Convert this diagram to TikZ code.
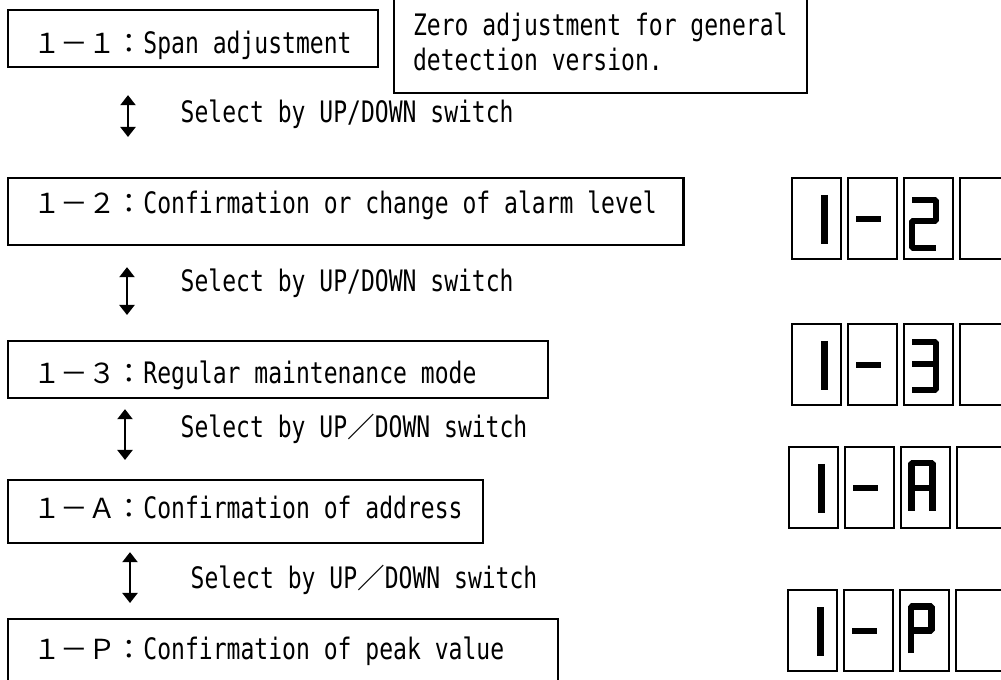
\documentclass[tikz,border=0pt]{standalone}
\usepackage{fontspec}
\usepackage{tikz}
\usetikzlibrary{calc}
\usetikzlibrary{arrows.meta,positioning}
\newfontfamily\gothic[FakeStretch=0.78]{DejaVu Sans Mono}
\newfontfamily\cjk{Noto Sans CJK JP}
\newcommand\zen[1]{{\cjk\fontsize{7.85}{10}\selectfont #1}}
\newcommand\entry[2]{\makebox[#1][l]{#2}}
\def\lcdrow(#1,#2)#3{% Syntax: (top left corner of first cell) {third character}
    \begin{scope}[shift={(#1,#2)}]
    \foreach \i in {0,...,3}
        \draw[cell] (56*\i,0) rectangle +(49,81);
    \draw[seg] (32.5,17) -- (32.5,66); % 1
    \draw[seg] (64,41) -- (89,41);     % -
    \begin{scope}[shift={(112,0)}] #3 \end{scope}
    \end{scope}}
\def\digittwo{\draw[seg] (8,22) -- (32,22) -- (32,43) -- (8,43) -- (8,70) -- (32,70);}
\def\digitthree{\draw[seg] (8,18) -- (32,18) -- (32,66) -- (8,66); \draw[seg] (8,40) -- (32,40);}
\def\letterA{\draw[seg] (10.5,64) -- (10.5,16) -- (31.5,16) -- (31.5,64); \draw[seg] (10.5,41) -- (31.5,41);}
\def\letterP{\draw[seg] (11,63) -- (11,16.5) -- (31.5,16.5) -- (31.5,40.5) -- (11,40.5);}

\begin{document}
\begin{tikzpicture}
    [x=0.01cm,y=-0.01cm,
     menu/.style={draw,line width=0.6pt,anchor=north west,inner xsep=0.25cm,inner ysep=0pt,
        font=\gothic\fontsize{8.4}{10}\selectfont},
     hint/.style={anchor=base west,inner sep=0pt,font=\gothic\fontsize{8.4}{10}\selectfont},
     updown/.style={{Triangle[width=0.15cm,length=0.1cm]}-{Triangle[width=0.15cm,length=0.1cm]},line width=0.6pt},
     cell/.style={draw,line width=0.6pt},
     seg/.style={line width=0.065cm,line join=bevel}]
    \useasboundingbox (0,0) rectangle (1001,680);
    \clip (0,0) rectangle (1001,680);

    \node[menu,minimum height=0.57cm,text height=0.29cm,text depth=0pt]
        (m11) at (7,9) {\entry{3.20cm}{\zen{１－１：}Span adjustment}};
    \node[menu,anchor=south west,align=left,inner xsep=0.19cm,inner ysep=0.22cm,text depth=0pt,
        font=\gothic\fontsize{8.4}{9.96}\selectfont]
        (note) at (393,94) {Zero adjustment for general\\detection version.};
    \node[menu,minimum height=0.67cm,text height=0.22cm,text depth=0.19cm]
        (m12) at (7,177) {\entry{6.25cm}{\zen{１－２：}Confirmation or change of alarm level}};
    \node[menu,minimum height=0.57cm,text height=0.27cm,text depth=0pt]
        (m13) at (7,340) {\entry{4.90cm}{\zen{１－３：}Regular maintenance mode}};
    \node[menu,minimum height=0.63cm,text height=0.22cm,text depth=0.09cm]
        (m1A) at (7,479) {\entry{4.25cm}{\zen{１－Ａ：}Confirmation of address}};
    \node[menu,minimum height=0.67cm,text height=0.22cm,text depth=0.09cm]
        (m1P) at (7,618) {\entry{5.00cm}{\zen{１－Ｐ：}Confirmation of peak value}};

    \draw[updown] ($(m11.south west)+(121,27)$) -- ($(m12.north west)+(121,-40)$);
    \draw[updown] ($(m12.south west)+(120,21)$) -- ($(m13.north west)+(120,-25)$);
    \draw[updown] ($(m13.south west)+(118,10)$) -- ($(m1A.north west)+(118,-19)$);
    \draw[updown] ($(m1A.south west)+(123,8)$) -- ($(m1P.north west)+(123,-15)$);

    \node[hint] (s1) at (180,123) {Select by UP/DOWN switch};
    \node[hint] (s2) at (180,292) {Select by UP/DOWN switch};
    \node[hint] (s3) at (180,438) {Select by UP\zen{／}DOWN switch};
    \node[hint] (s4) at (190,588) {Select by UP\zen{／}DOWN switch};

    % displays
    \lcdrow(792,178){\digittwo}
    \lcdrow(792,324){\digitthree}
    \lcdrow(789,447){\letterA}
    \lcdrow(788,590){\letterP}
\end{tikzpicture}
\end{document}
